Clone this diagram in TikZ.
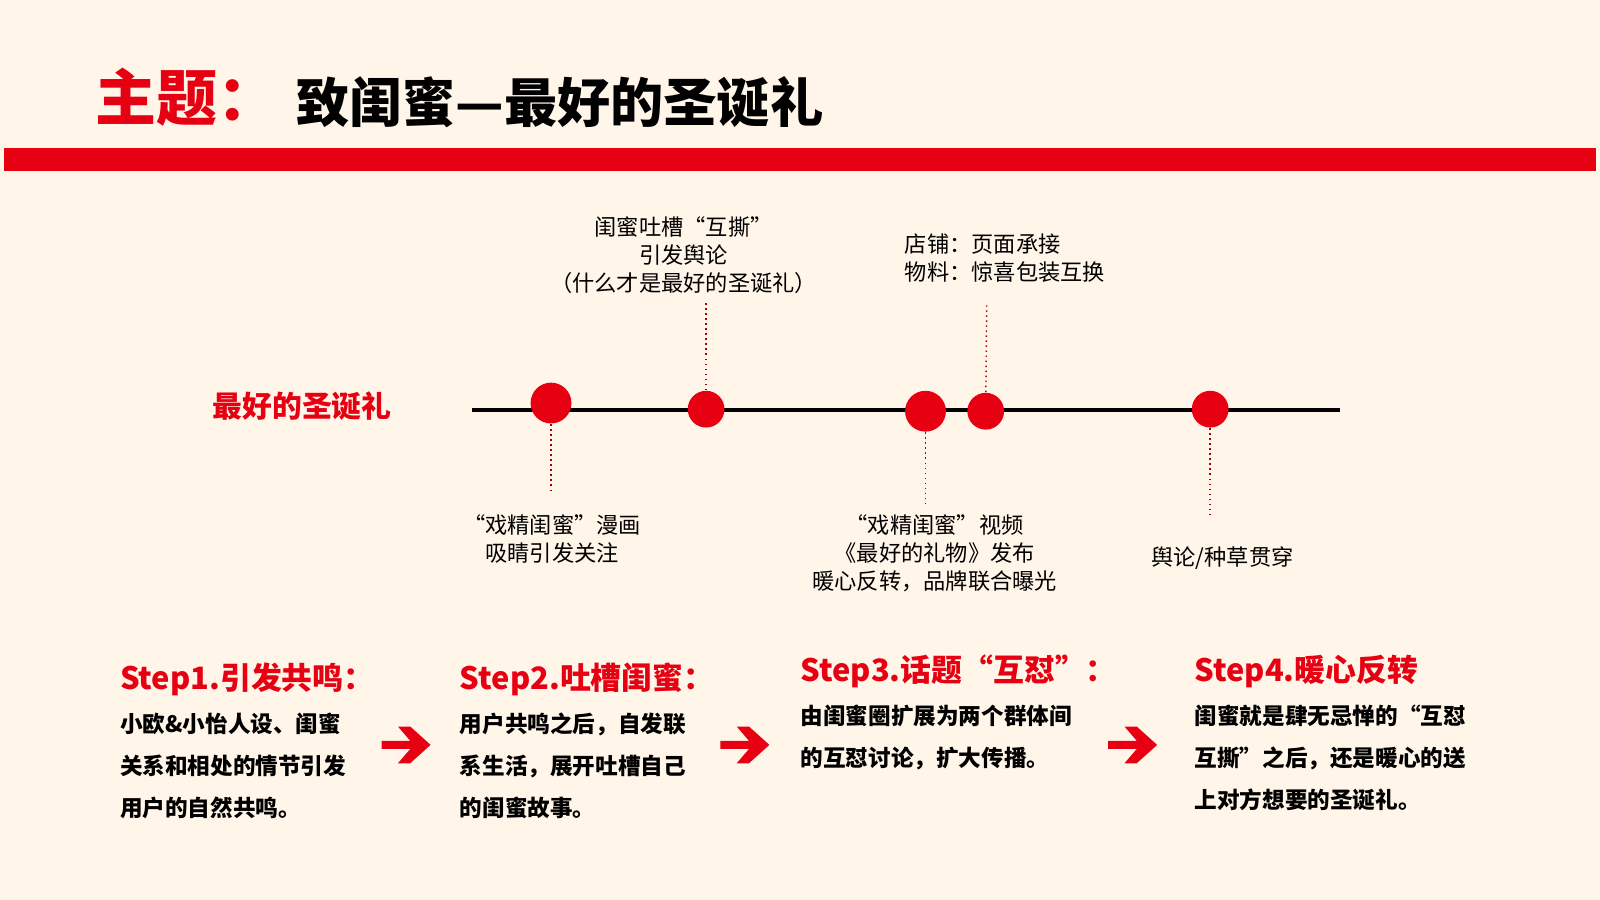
\documentclass[tikz,border=0pt]{standalone}
\usepackage{fontspec}
\setmainfont{Noto Sans CJK SC}
\definecolor{bg}{HTML}{FFF5E9}
\definecolor{rd}{HTML}{E60012}
\begin{document}
\begin{tikzpicture}[x=0.01cm,y=-0.01cm,
  lab/.style={font=\fontsize{6.2}{7.8}\selectfont,align=center,inner sep=0},
  dot/.style={circle,fill=rd,inner sep=0},
  lead/.style={rd!70!black,densely dotted,line width=0.4pt},
  st/.style={font=\bfseries\fontsize{8.6}{10}\selectfont,text=rd,anchor=west,inner sep=0},
  body/.style={font=\bfseries\fontsize{6.3}{11.7}\selectfont,anchor=north west,align=left,inner sep=0},
  chev/.style={fill=rd}]
\fill[bg] (0,0) rectangle (1568,882);
\useasboundingbox (0,0) rectangle (1568,882);
\node[anchor=west,inner sep=0,font=\bfseries\fontsize{17}{17}\selectfont,text=rd] (t1) at (93,95) {主题：};
\node[anchor=west,inner sep=0,font=\bfseries\fontsize{14.8}{15}\selectfont] (t2) at (290,100) {致闺蜜—最好的圣诞礼};
\fill[rd] (4,145) rectangle (1564,168);
\node[font=\bfseries\fontsize{8.3}{9}\selectfont,text=rd,inner sep=0] (main) at (296,398) {最好的圣诞礼};
\coordinate (l0) at (463,402); \coordinate (l1) at (1313,402);
\draw[line width=1.2pt] (l0) -- (l1);
\node[dot,minimum size=0.4cm] (d1) at (540,395) {};
\node[dot,minimum size=0.36cm] (d2) at (692,401) {};
\node[dot,minimum size=0.4cm] (d3) at (907,403) {};
\node[dot,minimum size=0.36cm] (d4) at (966,403) {};
\node[dot,minimum size=0.36cm] (d5) at (1186,401) {};
\coordinate (e1) at (540,483); \coordinate (e2) at (692,295);
\coordinate (e3) at (907,493); \coordinate (e4) at (967,298);
\coordinate (e5) at (1186,508);
\draw[lead] (d1) -- (e1); \draw[lead] (d2) -- (e2); \draw[lead] (d3) -- (e3);
\draw[lead] (d4) -- (e4); \draw[lead] (d5) -- (e5);
\node[lab] (a2) at (670,250) {闺蜜吐槽“互撕”\\引发舆论\\（什么才是最好的圣诞礼）};
\node[lab,align=left,anchor=west] (a4) at (886,253) {店铺：页面承接\\物料：惊喜包装互换};
\node[lab] (a1) at (541,528) {“戏精闺蜜”漫画\\吸睛引发关注};
\node[lab] (a3) at (916,542) {“戏精闺蜜”视频\\《最好的礼物》发布\\暖心反转，品牌联合曝光};
\node[lab] (a5) at (1198,547) {舆论/种草贯穿};
\node[st] (s1) at (117,666) {Step1.引发共鸣：};
\node[st] (s2) at (450,666) {Step2.吐槽闺蜜：};
\node[st] (s3) at (784,658) {Step3.话题“互怼”：};
\node[st] (s4) at (1170,658) {Step4.暖心反转};
\node[body] (b1) at (117,698) {小欧\&小怡人设、闺蜜\\关系和相处的情节引发\\用户的自然共鸣。};
\node[body] (b2) at (450,698) {用户共鸣之后，自发联\\系生活，展开吐槽自己\\的闺蜜故事。};
\node[body] (b3) at (784,690) {由闺蜜圈扩展为两个群体间\\的互怼讨论，扩大传播。};
\node[body] (b4) at (1170,690) {闺蜜就是肆无忌惮的“互怼\\互撕”之后，还是暖心的送\\上对方想要的圣诞礼。};
\foreach \n/\cx in {c1/398,c2/730,c3/1110}{
  \coordinate (\n) at (\cx,730);
  \fill[chev,shift={(\n)}] (-24,-4) -- (4,-4) -- (-8,-18) -- (4,-18) -- (24,0) -- (4,18) -- (-8,18) -- (4,4) -- (-24,4) -- cycle;
}
\end{tikzpicture}
\end{document}
